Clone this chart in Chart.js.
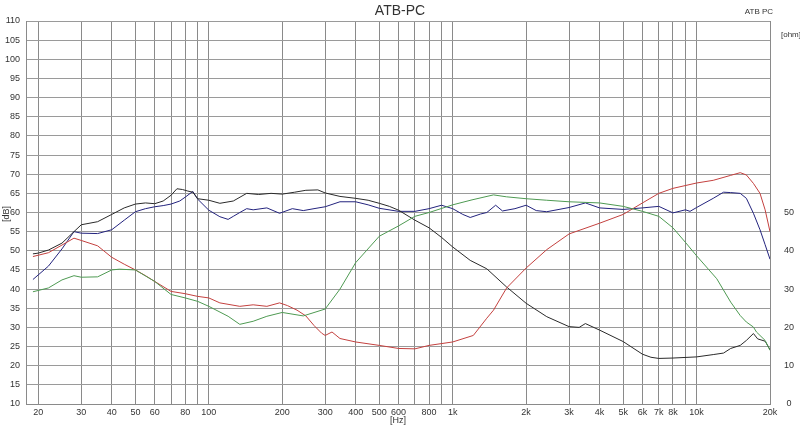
<!DOCTYPE html>
<html>
<head>
<meta charset="utf-8">
<script src="https://cdn.jsdelivr.net/npm/chart.js@4/dist/chart.umd.min.js"></script>
<style>
html,body{margin:0;padding:0;background:#fff;}
#wrap{width:800px;height:428px;}
</style>
</head>
<body>
<div id="wrap"><canvas id="c" width="800" height="428"></canvas></div>
<script>
// ---- data ----
const chartTitle = "ATB-PC";
const legendText = "ATB PC";
const xTickValues = [20,30,40,50,60,70,80,90,100,200,300,400,500,600,700,800,900,1000,2000,3000,4000,5000,6000,7000,8000,9000,10000,20000];
const xTickLabels = ["20","30","40","50","60","","80","","100","200","300","400","500","600","","800","","1k","2k","3k","4k","5k","6k","7k","8k","","10k","20k"];

const blackFreq = [19,20,22,25,28,30,35,40,45,50,55,60,65,70,74,78,82,86,90,100,111,126,143,160,180,200,225,250,280,300,345,400,450,500,550,600,700,800,900,1000,1180,1380,1660,2000,2430,3000,3300,3500,4000,5000,6000,6500,7000,8000,10000,11700,12900,13800,15100,16000,17100,17800,19100,20000];
const blackDb   = [49.2,49.4,50.2,52,55,56.8,57.6,59.5,61.2,62.2,62.5,62.3,63,64.5,66.2,66,65.6,65.3,63.6,63.2,62.4,63,65,64.7,65,64.8,65.3,65.8,65.9,65.1,64.2,63.7,63.2,62.4,61.6,60.6,58,56,53.5,51,47.5,45.3,40.6,36.3,32.8,30.2,30,31,29.3,26.3,23,22.2,21.9,22,22.3,22.9,23.3,24.5,25.3,26.6,28.4,27,26.4,24.2];

const blueFreq = [19,22,25,28,30,35,40,45,50,55,60,65,70,76,80,86,90,100,111,120,126,134,143,152,173,195,220,244,270,300,345,400,450,500,600,700,800,900,1000,1100,1180,1300,1380,1500,1600,1800,2000,2200,2430,3000,3500,4000,5000,6000,7000,8000,9000,9400,10000,11700,12900,13800,15100,16000,17100,18200,19100,20000];
const blueDb   = [42.5,46,50.5,55,54.6,54.5,55.5,58,60.2,61,61.5,61.8,62.2,63,64,65.5,63.5,60.6,58.9,58.2,59,60,61,60.7,61.2,59.8,61,60.5,61,61.5,62.8,62.8,62,61.1,60.3,60.3,61,61.9,61,59.5,58.7,59.6,60,61.9,60.4,61,61.9,60.5,60.2,61.3,62.5,61.2,60.8,61.2,61.6,59.9,60.7,60.3,61.3,63.7,65.3,65.2,65,63.7,59.8,55.5,51.6,47.8];

const redFreq = [19,22,25,28,30,35,40,45,50,55,60,70,80,90,100,111,134,152,173,195,210,230,250,270,290,300,320,345,400,500,600,700,800,1000,1215,1380,1470,1664,2000,2430,3000,4000,5000,6000,7000,8000,10000,11700,13800,15100,16000,17100,18200,19100,20000];
const redDb   = [48.5,49.5,51.5,53.3,52.7,51.3,48.3,46.5,45,43.5,42,39.4,38.8,38.1,37.7,36.4,35.5,35.9,35.5,36.4,35.7,34.5,33,30.5,28.5,27.9,28.8,27.1,26.2,25.3,24.5,24.4,25.3,26.2,27.9,32.4,34.5,40.3,45.5,50.3,54.4,57.2,59.5,62.5,65,66.3,67.7,68.4,69.7,70.4,69.8,67.6,65,60.7,55];

const greenFreq = [19,22,25,28,30,35,40,43,50,60,70,80,90,100,120,134,152,173,200,244,300,345,400,500,600,700,800,1000,1200,1470,1660,2000,2430,3000,4000,5000,6000,7000,8000,9000,10000,12100,13800,15100,16000,17100,17600,19100,20000];
const greenDb   = [39.3,40.3,42.4,43.5,43.1,43.2,45,45.2,45,42,38.6,37.7,36.8,35.5,32.9,30.8,31.6,32.9,33.9,33,34.8,40,46.9,53.8,56.5,59,60,62,63.3,64.6,64.1,63.6,63.2,62.8,62.5,61.6,60.3,59,56,52.2,48.7,42.7,36.6,33.1,31.4,30.1,28.8,26.6,24];

// ---- chart ----
function pts(fs, vs){ return fs.map((f,i)=>({x:f,y:vs[i]})); }
const FONT = "'Liberation Sans', Arial, sans-serif";
const labelMap = {};
xTickValues.forEach((v,i)=>{ labelMap[v] = xTickLabels[i]; });

const textPlugin = {
  id: 'texts',
  afterDraw(chart){
    const ctx = chart.ctx;
    ctx.save();
    ctx.fillStyle = '#333';
    ctx.textBaseline = 'middle';
    ctx.textAlign = 'center';
    ctx.font = "14px " + FONT;
    ctx.fillText(chartTitle, 400, 11);
    ctx.font = "8px " + FONT;
    ctx.fillText(legendText, 759, 12);
    ctx.textAlign = 'left';
    ctx.fillText("[ohm]", 781, 35);
    ctx.font = "9px " + FONT;
    ctx.textAlign = 'center';
    ctx.fillText("[Hz]", 398, 421);
    ctx.translate(7, 214);
    ctx.rotate(-Math.PI/2);
    ctx.fillText("[dB]", 0, 0);
    ctx.restore();
  }
};

const ds = (label, data, color) => ({
  label, data, borderColor: color, backgroundColor: color,
  borderWidth: 1, pointRadius: 0, tension: 0, fill: false, yAxisID: 'y'
});

new Chart(document.getElementById('c'), {
  type: 'line',
  data: {
    datasets: [
      ds('green', pts(greenFreq, greenDb), '#4e9a52'),
      ds('red', pts(redFreq, redDb), '#c4413f'),
      ds('black', pts(blackFreq, blackDb), '#2a2a2a'),
      ds('blue', pts(blueFreq, blueDb), '#23237e')
    ]
  },
  options: {
    responsive: false,
    animation: false,
    layout: { padding: { top: 21, left: 0, right: 0, bottom: 0 } },
    plugins: { legend: { display: false }, title: { display: false }, tooltip: { enabled: false } },
    scales: {
      x: {
        type: 'logarithmic',
        min: 17.8, max: 20000,
        afterBuildTicks: (s) => { s.ticks = xTickValues.map(v => ({ value: v })); },
        afterFit: (s) => { s.height = 24; },
        ticks: {
          autoSkip: false, maxRotation: 0, minRotation: 0, padding: 3,
          color: '#333', font: { family: FONT, size: 9 },
          callback: (v) => (labelMap[v] !== undefined ? labelMap[v] : '')
        },
        grid: { color: '#8a8a8a', lineWidth: 1, drawTicks: false },
        border: { display: true, color: '#8a8a8a' }
      },
      y: {
        position: 'left',
        min: 10, max: 110,
        afterFit: (s) => { s.width = 26; },
        ticks: { stepSize: 5, padding: 6, color: '#333', font: { family: FONT, size: 9 } },
        grid: { color: '#9a9a9a', lineWidth: 1, drawTicks: false },
        border: { display: true, color: '#8a8a8a' }
      },
      y2: {
        position: 'right',
        min: 0, max: 100,
        afterFit: (s) => { s.width = 30; },
        ticks: {
          stepSize: 10, padding: 14, crossAlign: 'center', color: '#333',
          font: { family: FONT, size: 9 },
          callback: (v) => (v <= 50 ? String(v) : '')
        },
        grid: { display: false, drawTicks: false },
        border: { display: false }
      }
    }
  },
  plugins: [textPlugin]
});
</script>
</body>
</html>
